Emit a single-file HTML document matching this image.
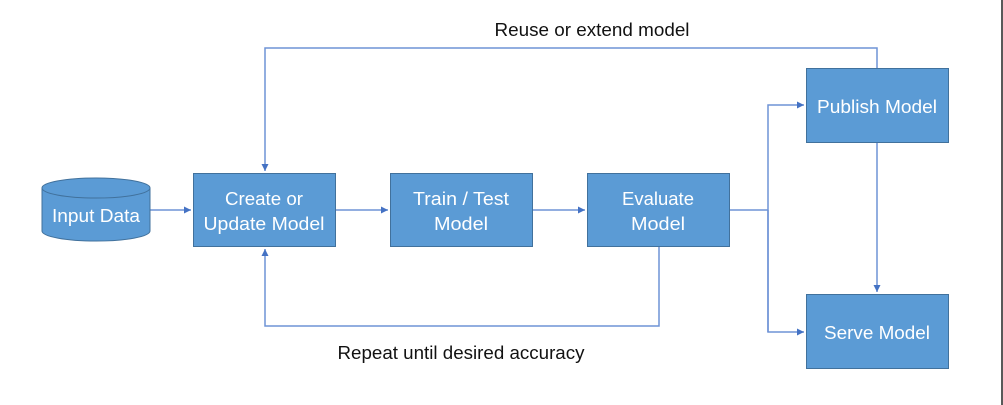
<!DOCTYPE html>
<html><head><style>
html,body{margin:0;padding:0;background:#fff;}
svg{display:block;}
text{font-family:"Liberation Sans",sans-serif;}
</style></head><body>
<svg width="1003" height="405" viewBox="0 0 1003 405" xmlns="http://www.w3.org/2000/svg">
<defs>
<marker id="a" markerWidth="8" markerHeight="8" refX="7" refY="4" orient="auto" markerUnits="userSpaceOnUse">
<path d="M0,0.5 L7,4 L0,7.5 z" fill="#4472c4"/>
</marker>
</defs>
<line x1="1002" y1="0" x2="1002" y2="405" stroke="#222" stroke-width="1.5"/>
<g fill="none" stroke="#6f93d6" stroke-width="1.5">
<path d="M877,68 V48 H265 V171" marker-end="url(#a)"/>
<path d="M659,247 V326 H265 V249" marker-end="url(#a)"/>
<path d="M150,210 H191" marker-end="url(#a)"/>
<path d="M336,210 H388" marker-end="url(#a)"/>
<path d="M533,210 H585" marker-end="url(#a)"/>
<path d="M730,210 H768 M768,332 V105 H804" marker-end="url(#a)"/>
<path d="M768,210 V332 H804" marker-end="url(#a)"/>
<path d="M877,143 V292" marker-end="url(#a)"/>
</g>
<g fill="#5b9bd5" stroke="#41719c" stroke-width="1">
<path d="M42,188 V231 A54,10 0 0 0 150,231 V188"/>
<ellipse cx="96" cy="188" rx="54" ry="10"/>
<rect x="193.5" y="173.5" width="142" height="73"/>
<rect x="390.5" y="173.5" width="142" height="73"/>
<rect x="587.5" y="173.5" width="142" height="73"/>
<rect x="806.5" y="68.5" width="142" height="74"/>
<rect x="806.5" y="294.5" width="142" height="74"/>
</g>
<g fill="#fff" font-size="18" text-anchor="middle">
<text x="96" y="222" textLength="88" lengthAdjust="spacingAndGlyphs">Input Data</text>
<text x="264" y="205" textLength="78" lengthAdjust="spacingAndGlyphs">Create or</text>
<text x="264" y="230" textLength="121" lengthAdjust="spacingAndGlyphs">Update Model</text>
<text x="461" y="205" textLength="96" lengthAdjust="spacingAndGlyphs">Train / Test</text>
<text x="461" y="230" textLength="54" lengthAdjust="spacingAndGlyphs">Model</text>
<text x="658" y="205" textLength="72" lengthAdjust="spacingAndGlyphs">Evaluate</text>
<text x="658" y="230" textLength="54" lengthAdjust="spacingAndGlyphs">Model</text>
<text x="877" y="113" textLength="120" lengthAdjust="spacingAndGlyphs">Publish Model</text>
<text x="877" y="339" textLength="106" lengthAdjust="spacingAndGlyphs">Serve Model</text>
</g>
<g fill="#111" font-size="18" text-anchor="middle">
<text x="592" y="36" textLength="195" lengthAdjust="spacingAndGlyphs">Reuse or extend model</text>
<text x="461" y="359" textLength="247" lengthAdjust="spacingAndGlyphs">Repeat until desired accuracy</text>
</g>
</svg>
</body></html>
